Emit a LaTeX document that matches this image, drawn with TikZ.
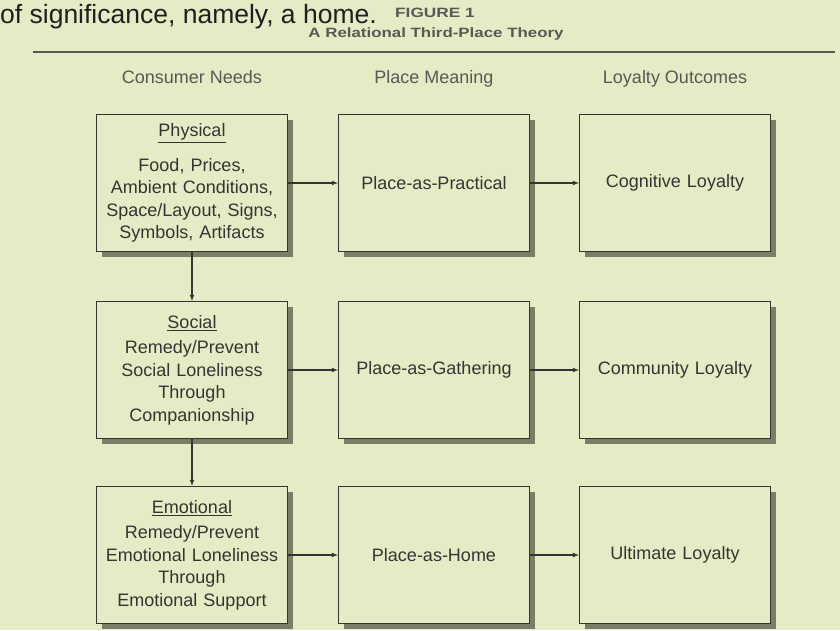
\documentclass[tikz,border=0pt]{standalone}
\usepackage{fontspec}
\setmainfont{Liberation Sans}
\usepackage{tikz}
\usetikzlibrary{arrows}
\usetikzlibrary{shadows}
\definecolor{paper}{RGB}{229,236,197}
\definecolor{shade}{RGB}{122,126,102}
\definecolor{ink}{RGB}{52,52,50}
\definecolor{dim}{RGB}{88,88,84}
\tikzstyle{box} = [draw = ink, line width = 1pt, fill = paper,
    minimum width = 191pt, minimum height = 137pt, inner sep = 0pt,
    text width = 182pt, align = center, text = ink,
    font = \fontsize{18}{22.5}\selectfont,
    drop shadow = {shadow xshift = 5pt, shadow yshift = -5pt,
                   fill = shade, opacity = 1}]
\tikzstyle{header} = [anchor = base, text = dim, font = \fontsize{18}{22}\selectfont]
\tikzstyle{caption} = [text = dim, font = \bfseries\fontsize{13.5}{16}\selectfont]
\tikzstyle{rule} = [draw = dim, line width = 1.5pt]
\tikzstyle{link} = [-latex, line width = 1.1pt, draw = ink]
\begin{document}
\begin{tikzpicture}[x = 1pt, y = -1pt]
            \fill [paper] (0, 0) rectangle (840, 630);
            \useasboundingbox (0, 0) rectangle (840, 630);

            \node [anchor = base west, inner sep = 0pt, text = black!88,
                   font = \fontsize{26.5}{30}\selectfont]
                  (lead) at (0, 23) {of significance, namely, a home.};
            \node [caption] (fignum) at (435, 13) {\scalebox{1.28}[1]{FIGURE 1}};
            \node [caption] (figtitle) at (436, 34)
                  {\scalebox{1.25}[1]{A Relational Third-Place Theory}};
            \draw [rule] (33, 52) -- (835, 52);

            \foreach \x/\name/\txt in {192/needs/Consumer Needs,
                                       434/meaning/Place Meaning,
                                       675/outcomes/Loyalty Outcomes}
            {
                \node [header] (\name) at (\x, 83) {\txt};
            }

            \node [box] (need1) at (192, 183)
                  {\underline{Physical}\\[12pt] Food, Prices,\\ Ambient Conditions,\\
                   Space/Layout, Signs,\\ Symbols, Artifacts};
            \node [box] (need2) at (192, 370)
                  {\underline{Social}\\[3pt] Remedy/Prevent\\ Social Loneliness\\
                   Through\\ Companionship};
            \node [box] (need3) at (192, 555)
                  {\underline{Emotional}\\[3pt] Remedy/Prevent\\ Emotional Loneliness\\
                   Through\\ Emotional Support};

            \foreach \r/\y/\m/\o in {1/183/Practical/Cognitive,
                                     2/370/Gathering/Community,
                                     3/555/Home/Ultimate}
            {
                \node [box] (place\r) at (434, \y) {Place-as-\m};
                \node [box] (loyal\r) at (675, \y) {\o\ Loyalty};
                \draw [link] (need\r) -- (place\r);
                \draw [link] (place\r) -- (loyal\r);
            }

            \draw [link] (need1) -- (need2);
            \draw [link] (need2) -- (need3);
        \end{tikzpicture}
\end{document}
